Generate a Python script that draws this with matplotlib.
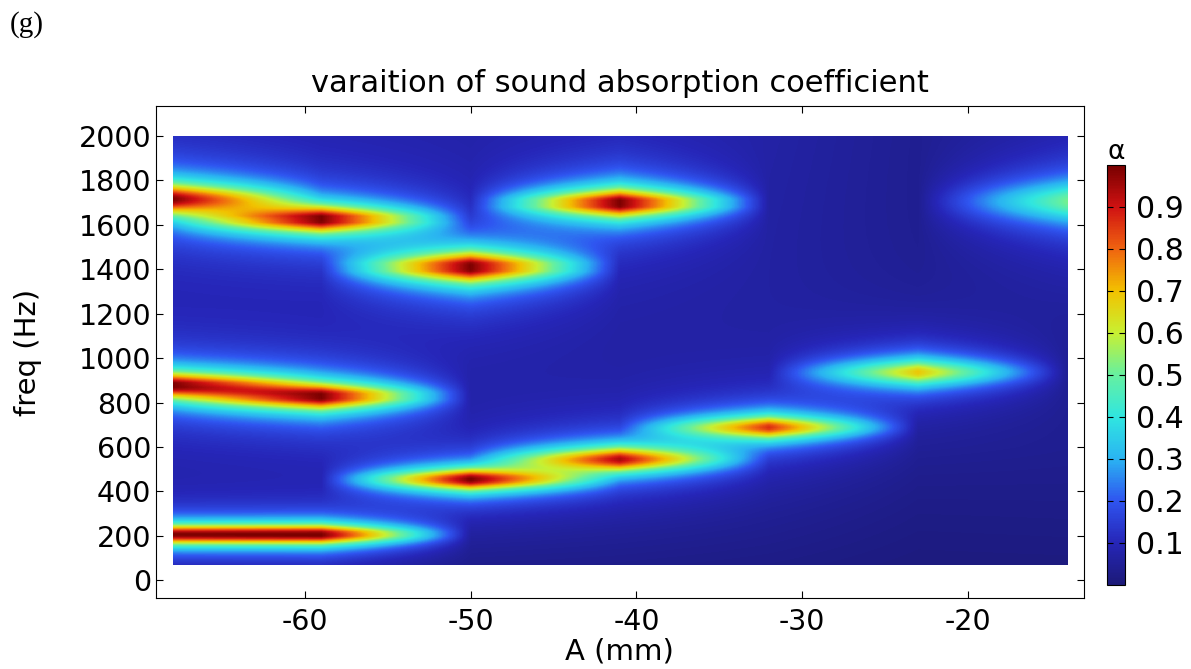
import numpy as np
import matplotlib
matplotlib.use("Agg")
import matplotlib.pyplot as plt
from matplotlib.colors import LinearSegmentedColormap
from matplotlib.patches import Rectangle

plt.rcParams["axes.unicode_minus"] = False

# A sweep (mm) where the absorption was evaluated
A_cols = [-68, -59, -50, -41, -32, -23, -14]
# baseline absorption of each A column (away from resonances)
col_base = [0.05, 0.05, 0.05, 0.05, 0.055, 0.03, 0.04]

# resonance peaks: column, centre freq (Hz), peak alpha, half width (Hz)
peak_A = [-68, -68, -68, -59, -59, -59, -50, -50, -41, -41, -32, -23, -14]
peak_f = [1716, 878, 207, 1626, 829, 207, 1410, 455, 1698, 545, 689, 937, 1705]
peak_alpha = [0.93, 0.97, 0.97, 0.98, 0.99, 0.99, 0.99, 0.98, 0.99, 0.90, 0.82, 0.66, 0.47]
peak_width = [70, 60, 45, 62, 60, 45, 70, 50, 64, 58, 55, 64, 95]

# frequency dependence of the baseline (scale factor)
bg_freq = [70, 600, 1000, 2000]
bg_scale = [0.3, 0.9, 1.0, 1.3]

f_min, f_max = 70, 2000
freq = np.linspace(f_min, f_max, 194)
Z = np.zeros((len(freq), len(A_cols)))
for j, a in enumerate(A_cols):
    col = col_base[j] * np.interp(freq, bg_freq, bg_scale)
    for pa, pf, pv, pw in zip(peak_A, peak_f, peak_alpha, peak_width):
        if pa == a:
            col = col + pv / (1 + ((freq - pf) / pw) ** 2)
    Z[:, j] = np.clip(col, 0, 0.995)

# rainbow map similar to the COMSOL one
rainbow = LinearSegmentedColormap.from_list("rainbow_c", [
    (0.00, "#1c1a78"), (0.10, "#2626b8"), (0.20, "#2f55f0"), (0.30, "#2ab4f2"),
    (0.40, "#30e6e0"), (0.50, "#66f0a0"), (0.60, "#c8f032"), (0.70, "#f2c200"),
    (0.80, "#f06410"), (0.90, "#d01212"), (1.00, "#780000")])

fig = plt.figure(figsize=(11.91, 6.69), dpi=100)
ax = fig.add_axes([0.131, 0.106, 0.779, 0.7355])

# pixel centres sit on the sampled A values / frequencies, bilinear fill in between
dA = A_cols[1] - A_cols[0]
df = freq[1] - freq[0]
img = ax.imshow(Z, origin="lower", aspect="auto", cmap=rainbow, vmin=0, vmax=1.0,
                interpolation="bilinear", interpolation_stage="data",
                extent=(A_cols[0] - dA / 2, A_cols[-1] + dA / 2, f_min - df / 2, f_max + df / 2))
box = Rectangle((A_cols[0], f_min), A_cols[-1] - A_cols[0], f_max - f_min,
                transform=ax.transData, facecolor="none", edgecolor="none")
ax.add_patch(box)
img.set_clip_path(box)

ax.set_xlim(-69, -13)
ax.set_ylim(-80, 2135)
ax.set_xticks([-60, -50, -40, -30, -20])
ax.set_yticks(np.arange(0, 2001, 200))
ax.tick_params(direction="in", top=True, right=True, labelsize=20.5, length=5)
ax.tick_params(axis="x", pad=7)
ax.set_title("varaition of sound absorption coefficient", fontsize=22, pad=10)
ax.set_xlabel("A (mm)", fontsize=21, labelpad=1)
ax.set_ylabel("freq (Hz)", fontsize=21, labelpad=26)

cax = fig.add_axes([0.9295, 0.1256, 0.0151, 0.628])
cb = fig.colorbar(img, cax=cax, ticks=np.arange(0.1, 0.95, 0.1))
cb.ax.set_yticklabels(["%.1f" % t for t in np.arange(0.1, 0.95, 0.1)])
cax.tick_params(direction="in", left=True, right=True, labelsize=21.5, length=4, pad=8)
cax.set_title("\u03b1", fontsize=19, pad=-7)

fig.text(0.008, 0.952, "(g)", fontsize=21, family="Liberation Serif")

fig.savefig("out.png")
